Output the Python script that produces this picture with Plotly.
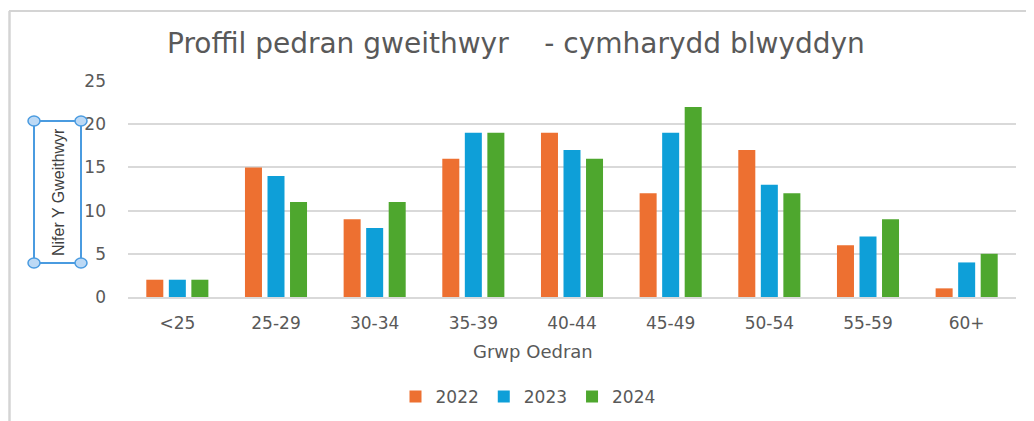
import plotly.graph_objects as go

categories = ["<25", "25-29", "30-34", "35-39", "40-44", "45-49", "50-54", "55-59", "60+"]
y2022 = [2, 15, 9, 16, 19, 12, 17, 6, 1]
y2023 = [2, 14, 8, 19, 17, 19, 13, 7, 4]
y2024 = [2, 11, 11, 19, 16, 22, 12, 9, 5]
series_names = ["2022", "2023", "2024"]
colors = ["#ED7031", "#0E9FD8", "#4EA72E"]
yticks = [0, 5, 10, 15, 20, 25]

W, H = 1034, 421
OFF = 8  # page body offset
L, T = 128, 81           # plot area top-left in screenshot pixels
pw, ph = 888, 216        # plot area size
ml, mt = L - OFF, T - OFF
mr = W - ml - pw
mb = H - mt - ph

def px(x):
    return (x - L) / pw

def py(y):
    return (T + ph - y) / ph

fig = go.Figure()
for name, vals, col in zip(series_names, [y2022, y2023, y2024], colors):
    fig.add_trace(go.Bar(x=categories, y=vals, name=name, marker_color=col,
                         marker_line_width=0))

gray = "#595959"
grid = "#D9D9D9"
shapes = []
# outer frame lines
shapes.append(dict(type="line", xref="paper", yref="paper", x0=px(9), x1=px(W + 20), y0=py(11), y1=py(11),
                   line=dict(color="#D4D4D4", width=2), layer="above"))
shapes.append(dict(type="line", xref="paper", yref="paper", x0=px(9.5), x1=px(9.5), y0=py(11), y1=py(H + 20),
                   line=dict(color="#D4D4D4", width=2.5), layer="above"))
# selection box around y-axis title
shapes.append(dict(type="rect", xref="paper", yref="paper", x0=px(34), x1=px(81), y0=py(121), y1=py(263),
                   line=dict(color="#4A9BE0", width=2)))
for cx, cy in [(34, 121), (81, 121), (34, 263), (81, 263)]:
    shapes.append(dict(type="circle", xref="paper", yref="paper", x0=px(cx - 6), x1=px(cx + 6),
                       y0=py(cy - 5), y1=py(cy + 5),
                       line=dict(color="#4A9BE0", width=1.5), fillcolor="#BCD9F5"))

annotations = [
    dict(text="Proffil pedran gweithwyr&nbsp;&nbsp;&nbsp; - cymharydd blwyddyn", xref="paper", yref="paper",
         x=px(516), y=py(43), showarrow=False, xanchor="center", yanchor="middle",
         font=dict(family="DejaVu Sans", size=28, color=gray)),
    dict(text="Grwp Oedran", xref="paper", yref="paper", x=px(533), y=py(351), showarrow=False,
         xanchor="center", yanchor="middle", font=dict(family="DejaVu Sans", size=18, color=gray)),
    dict(text="Nifer Y Gweithwyr", xref="paper", yref="paper", x=px(58), y=py(192), showarrow=False,
         textangle=-90, xanchor="center", yanchor="middle",
         font=dict(family="Liberation Sans Narrow, Liberation Sans", size=16, color="#404040")),
]

fig.update_layout(
    width=W, height=H,
    margin=dict(l=ml, r=mr, t=mt, b=mb, pad=0),
    paper_bgcolor="white", plot_bgcolor="white",
    barmode="group", bargap=0.315, bargroupgap=0.245,
    font=dict(family="DejaVu Sans", size=17, color=gray),
    showlegend=True,
    legend=dict(orientation="h", x=px(528), xanchor="center", y=py(397), yanchor="middle",
                font=dict(family="DejaVu Sans", size=17, color=gray), traceorder="normal"),
    shapes=shapes,
    annotations=annotations,
)
fig.update_xaxes(showgrid=False, showline=True, linecolor=grid, linewidth=1.5,
                 tickfont=dict(family="DejaVu Sans", size=17, color=gray), ticks="", ticklabelstandoff=10)
fig.update_yaxes(range=[0, 25], tickvals=yticks, showgrid=True, gridcolor=grid, gridwidth=1.5,
                 zeroline=False, showline=False, ticks="",
                 tickfont=dict(family="DejaVu Sans", size=17, color=gray), ticklabelstandoff=21)

fig.write_html("out.html")
